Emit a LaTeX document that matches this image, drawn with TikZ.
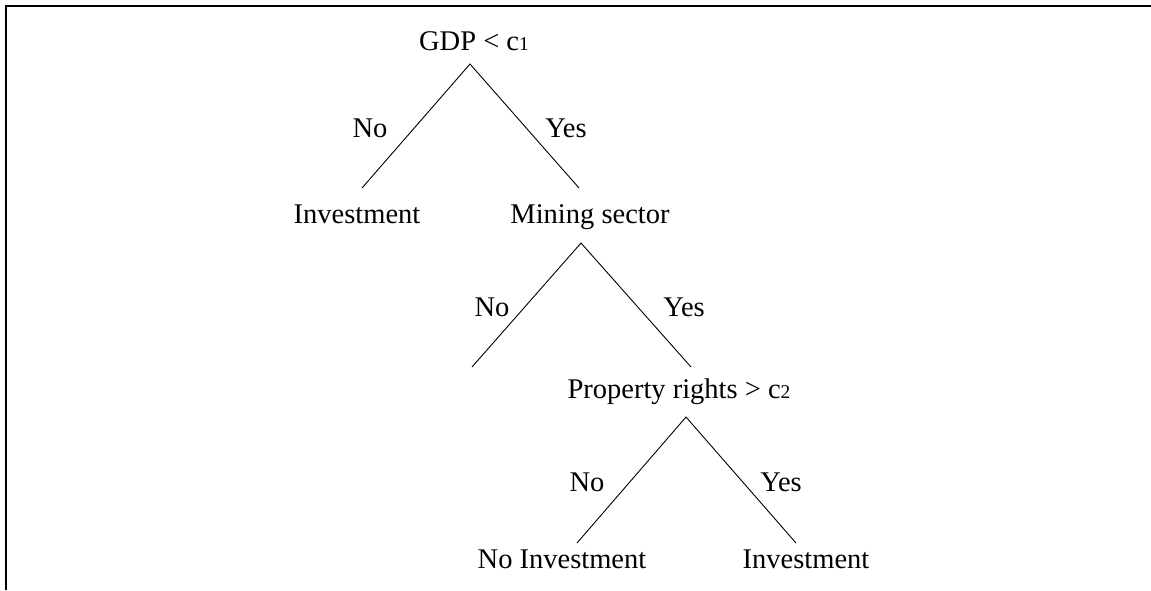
\documentclass[tikz,border=0pt]{standalone}
\usepackage{fontspec}
\setmainfont{Liberation Serif}
\newcommand{\subdig}[1]{{\fontsize{19.5pt}{19.5pt}\selectfont #1}}
\begin{document}
\begin{tikzpicture}[x=1pt,y=-1pt,
  every node/.style={font=\fontsize{28.5pt}{31pt}\selectfont, inner sep=0pt, anchor=base},
  branch/.style={line width=0.9pt},
  frameline/.style={line width=2pt}]
\useasboundingbox (0,0) rectangle (1151,590);
% partial frame
\coordinate (fb) at (6,590);
\coordinate (fc) at (6,6);
\coordinate (fr) at (1151,6);
\draw[frameline] (fb) -- (fc) -- (fr);

% decision nodes and leaves
\node (gdp) at (474,50) {GDP < c\subdig{1}};
\node (inv1) at (357,223) {Investment};
\node (mine) at (590,223) {Mining sector};
\node (prop) at (679,398) {Property rights > c\subdig{2}};
\node (noinv) at (562,568) {No Investment};
\node (inv2) at (806,568) {Investment};

% branch points
\coordinate (a1) at (470,64);
\coordinate (l1) at (362,188);
\coordinate (r1) at (579,188);
\coordinate (a2) at (581,243);
\coordinate (l2) at (472,367);
\coordinate (r2) at (691,367);
\coordinate (a3) at (686,417);
\coordinate (l3) at (577,543);
\coordinate (r3) at (796,543);

\draw[branch] (l1) -- (a1) -- (r1);
\draw[branch] (l2) -- (a2) -- (r2);
\draw[branch] (l3) -- (a3) -- (r3);

% branch labels
\node (n1) at (370,137) {No};
\node (y1) at (566,137) {Yes};
\node (n2) at (492,316) {No};
\node (y2) at (684,316) {Yes};
\node (n3) at (587,491) {No};
\node (y3) at (781,491) {Yes};
\end{tikzpicture}
\end{document}
